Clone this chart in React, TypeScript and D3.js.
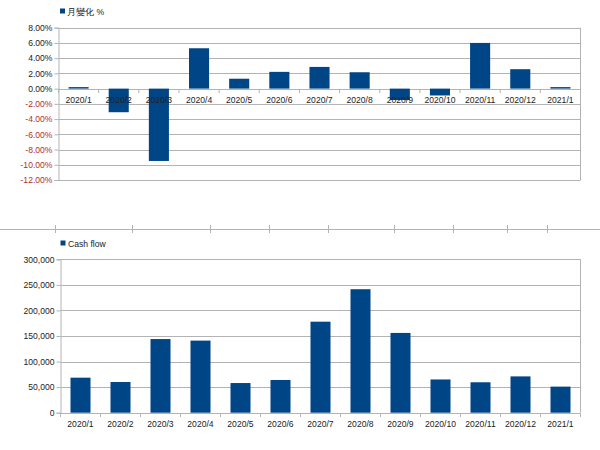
import { useEffect, useRef } from 'react';
import * as d3 from 'd3';

const months = [
  '2020/1', '2020/2', '2020/3', '2020/4', '2020/5', '2020/6', '2020/7',
  '2020/8', '2020/9', '2020/10', '2020/11', '2020/12', '2021/1',
];
// monthly change in percent
const monthlyChange = [0.2, -3.1, -9.5, 5.3, 1.3, 2.2, 2.85, 2.15, -1.5, -0.9, 6.0, 2.55, 0.2];
// cash flow
const cashFlow = [68500, 60000, 144000, 141000, 58000, 64000, 178000, 241500, 156000, 65000, 59500, 71000, 51000];

const pctTicks = [8, 6, 4, 2, 0, -2, -4, -6, -8, -10, -12];
const cashTicks = [0, 50000, 100000, 150000, 200000, 250000, 300000];
const stubTicks = [55, 132, 210, 269, 328, 394, 453, 507, 547];

const BAR = '#004586';
const GRID = '#b3b3b3';
const FONT = '"Liberation Sans", Arial, sans-serif';

export default function App() {
  const ref = useRef<SVGSVGElement>(null);

  useEffect(() => {
    const svg = d3.select(ref.current);
    svg.selectAll('*').remove();

    // ---------- top chart: 月變化 % ----------
    const x1 = d3.scaleBand().domain(months).range([58.5, 580.5]).paddingInner(0.5).paddingOuter(0.25);
    const y1 = d3.scaleLinear().domain([-12, 8]).range([180, 27.7]);
    const top = svg.append('g');

    top.selectAll('line.grid')
      .data(pctTicks)
      .join('line')
      .attr('x1', 58.5).attr('x2', 580.5)
      .attr('y1', d => Math.round(y1(d)) + 0.5).attr('y2', d => Math.round(y1(d)) + 0.5)
      .attr('stroke', GRID);

    top.append('line')
      .attr('x1', 580.5).attr('x2', 580.5).attr('y1', y1(8)).attr('y2', y1(-12))
      .attr('stroke', GRID);

    top.selectAll('rect.bar')
      .data(monthlyChange)
      .join('rect')
      .attr('x', (_, i) => x1(months[i])!)
      .attr('width', x1.bandwidth())
      .attr('y', d => y1(Math.max(0, d)))
      .attr('height', d => Math.abs(y1(d) - y1(0)))
      .attr('fill', BAR);

    const yAxis1 = d3.axisLeft(y1)
      .tickValues(pctTicks)
      .tickSize(4)
      .tickFormat(d => `${(+d).toFixed(2)}%`);
    const ya1 = top.append('g').attr('transform', 'translate(58.5,0)').call(yAxis1);
    ya1.select('.domain').attr('stroke', GRID);
    ya1.selectAll('.tick line').attr('stroke', GRID);
    ya1.selectAll('.tick text')
      .attr('font-family', FONT).attr('font-size', 8.6)
      .attr('fill', d => ((d as number) < 0 ? '#b0302a' : '#222'))
      .attr('x', -6);

    // category ticks and labels on the zero line
    const step1 = x1.step();
    const bounds1 = d3.range(months.length + 1).map(i => 58.5 + i * step1);
    top.selectAll('line.cat')
      .data(bounds1)
      .join('line')
      .attr('x1', d => d).attr('x2', d => d)
      .attr('y1', Math.round(y1(0)) + 0.5).attr('y2', Math.round(y1(0)) + 4)
      .attr('stroke', GRID);
    top.selectAll('text.cat')
      .data(months)
      .join('text')
      .attr('x', d => x1(d)! + x1.bandwidth() / 2)
      .attr('y', y1(0) + 14)
      .attr('text-anchor', 'middle')
      .attr('font-family', FONT).attr('font-size', 8.6)
      .attr('fill', '#222')
      .text(d => d);

    // legend
    top.append('rect').attr('x', 60).attr('y', 8.5).attr('width', 5).attr('height', 5).attr('fill', BAR);
    top.append('text').attr('x', 67).attr('y', 14.5)
      .attr('font-family', FONT).attr('font-size', 8.6).attr('fill', '#222')
      .text('月變化 %');

    // ---------- stub axis between charts ----------
    svg.append('line').attr('x1', 0).attr('x2', 600).attr('y1', 229.5).attr('y2', 229.5).attr('stroke', GRID);
    svg.selectAll('line.stub')
      .data(stubTicks)
      .join('line')
      .attr('x1', d => d + 0.5).attr('x2', d => d + 0.5)
      .attr('y1', 225).attr('y2', 233)
      .attr('stroke', GRID);

    // ---------- bottom chart: Cash flow ----------
    const x2 = d3.scaleBand().domain(months).range([60.5, 580.5]).paddingInner(0.5).paddingOuter(0.25);
    const y2 = d3.scaleLinear().domain([0, 300000]).range([412.7, 259.3]);
    const bot = svg.append('g');

    bot.selectAll('line.grid')
      .data(cashTicks)
      .join('line')
      .attr('x1', 60.5).attr('x2', 580.5)
      .attr('y1', d => Math.round(y2(d)) + 0.5).attr('y2', d => Math.round(y2(d)) + 0.5)
      .attr('stroke', GRID);
    bot.append('line')
      .attr('x1', 580.5).attr('x2', 580.5).attr('y1', y2(300000)).attr('y2', y2(0))
      .attr('stroke', GRID);

    bot.selectAll('rect.bar')
      .data(cashFlow)
      .join('rect')
      .attr('x', (_, i) => x2(months[i])!)
      .attr('width', x2.bandwidth())
      .attr('y', d => y2(d))
      .attr('height', d => y2(0) - y2(d))
      .attr('fill', BAR);

    const yAxis2 = d3.axisLeft(y2)
      .tickValues(cashTicks)
      .tickSize(4)
      .tickFormat(d => d3.format(',')(d as number));
    const ya2 = bot.append('g').attr('transform', 'translate(60.5,0)').call(yAxis2);
    ya2.select('.domain').attr('stroke', GRID);
    ya2.selectAll('.tick line').attr('stroke', GRID);
    ya2.selectAll('.tick text')
      .attr('font-family', FONT).attr('font-size', 8.6).attr('fill', '#222')
      .attr('x', -6);

    const step2 = x2.step();
    const bounds2 = d3.range(months.length + 1).map(i => 60.5 + i * step2);
    bot.selectAll('line.cat')
      .data(bounds2)
      .join('line')
      .attr('x1', d => d).attr('x2', d => d)
      .attr('y1', Math.round(y2(0)) + 0.5).attr('y2', Math.round(y2(0)) + 4)
      .attr('stroke', GRID);
    bot.selectAll('text.cat')
      .data(months)
      .join('text')
      .attr('x', d => x2(d)! + x2.bandwidth() / 2)
      .attr('y', y2(0) + 14)
      .attr('text-anchor', 'middle')
      .attr('font-family', FONT).attr('font-size', 8.6)
      .attr('fill', '#222')
      .text(d => d);

    bot.append('rect').attr('x', 60.5).attr('y', 240.5).attr('width', 5).attr('height', 5).attr('fill', BAR);
    bot.append('text').attr('x', 68).attr('y', 246.5)
      .attr('font-family', FONT).attr('font-size', 8.6).attr('fill', '#222')
      .text('Cash flow');
  }, []);

  return (
    <svg
      ref={ref}
      width={600}
      height={450}
      style={{ position: 'absolute', left: 0, top: 0, background: '#fff' }}
    />
  );
}
